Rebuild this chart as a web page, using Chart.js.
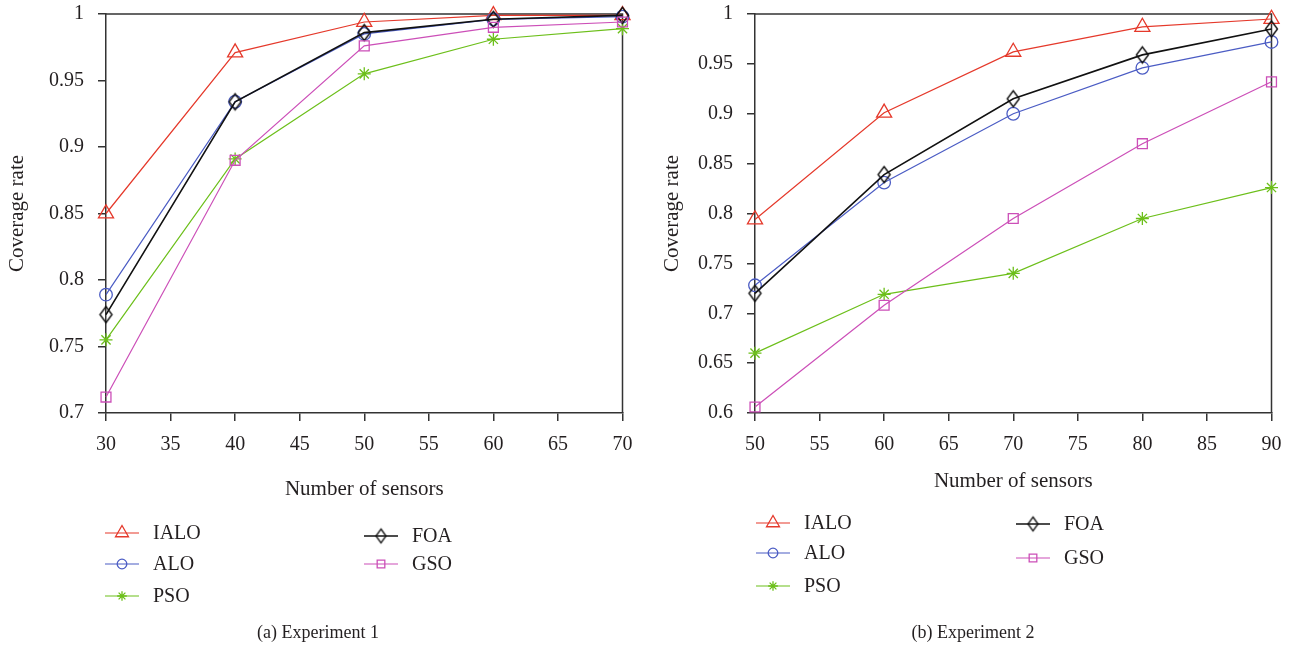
<!DOCTYPE html>
<html lang="en">
<head>
<meta charset="UTF-8">
<title>Coverage rate vs number of sensors</title>
<style>
  html, body { margin: 0; padding: 0; background: #fff; }
  body { width: 1293px; height: 646px; position: relative; overflow: hidden; }
  .panel { position: absolute; top: 0; height: 646px; }
  #panelA { left: 0; width: 646px; }
  #panelB { left: 646px; width: 647px; }
</style>
</head>
<body>
<div class="panel" id="panelA"><canvas id="chartA" width="646" height="646"></canvas></div>
<div class="panel" id="panelB"><canvas id="chartB" width="647" height="646"></canvas></div>
<script src="https://cdn.jsdelivr.net/npm/chart.js@4.4.0/dist/chart.umd.min.js"></script>
<script>
// ---- data ----
const seriesNames = ['IALO', 'ALO', 'PSO', 'FOA', 'GSO'];

// (a) Experiment 1
const sensorsA = [30, 40, 50, 60, 70];
const ialoA = [0.850, 0.971, 0.994, 0.999, 0.999];
const aloA  = [0.789, 0.934, 0.985, 0.996, 0.998];
const psoA  = [0.755, 0.891, 0.955, 0.981, 0.989];
const foaA  = [0.774, 0.934, 0.986, 0.996, 0.999];
const gsoA  = [0.712, 0.890, 0.976, 0.990, 0.994];

// (b) Experiment 2
const sensorsB = [50, 60, 70, 80, 90];
const ialoB = [0.794, 0.901, 0.962, 0.987, 0.995];
const aloB  = [0.728, 0.831, 0.900, 0.946, 0.972];
const psoB  = [0.660, 0.719, 0.740, 0.795, 0.826];
const foaB  = [0.720, 0.839, 0.915, 0.959, 0.985];
const gsoB  = [0.606, 0.708, 0.795, 0.870, 0.932];

// ---- styling ----
const FONT = '"Liberation Serif", "DejaVu Serif", serif';
const INK = '#231f20';
const AXIS = '#333333';
const colors = ['#e5392b', '#4b5cc4', '#6cbf1a', '#111111', '#cc4fb8'];
const lineWidths = [1.2, 1.2, 1.2, 1.6, 1.2];

// tall diamond marker (built-in rectRot is square)
function makeDiamond(w, h, color, lw) {
  const c = document.createElement('canvas');
  c.width = Math.ceil(w + lw * 2 + 2);
  c.height = Math.ceil(h + lw * 2 + 2);
  const g = c.getContext('2d');
  const cx = c.width / 2, cy = c.height / 2;
  g.strokeStyle = color;
  g.lineWidth = lw;
  g.beginPath();
  g.moveTo(cx, cy - h / 2);
  g.lineTo(cx + w / 2, cy);
  g.lineTo(cx, cy + h / 2);
  g.lineTo(cx - w / 2, cy);
  g.closePath();
  g.stroke();
  return c;
}

const pointStyles = ['triangle', 'circle', 'star', makeDiamond(12, 16, colors[3], 1.4), 'rect'];
const legendStyles = ['triangle', 'circle', 'star', makeDiamond(10, 14, colors[3], 1.3), 'rect'];
const pointRadii = [8.7, 6.3, 6.5, 8, 7];
const legendRadii = [7.5, 4.8, 4.8, 7, 5.4];

function buildDatasets(sensors, seriesValues) {
  return seriesValues.map((vals, i) => ({
    label: seriesNames[i],
    data: sensors.map((s, k) => ({ x: s, y: vals[k] })),
    borderColor: colors[i],
    backgroundColor: 'rgba(0,0,0,0)',
    borderWidth: lineWidths[i],
    pointStyle: pointStyles[i],
    pointRadius: pointRadii[i],
    pointBorderWidth: 1.3,
    pointBorderColor: colors[i],
    pointBackgroundColor: 'rgba(0,0,0,0)',
    tension: 0,
    clip: false,
    order: seriesValues.length - i
  }));
}

function decor(cfg) {
  return {
    id: 'decor',
    beforeDatasetsDraw(chart) {
      const ctx = chart.ctx, a = chart.chartArea;
      ctx.save();
      ctx.strokeStyle = AXIS;
      ctx.lineWidth = 1.5;
      ctx.beginPath();
      ctx.moveTo(a.left, a.top);
      ctx.lineTo(a.right, a.top);
      ctx.lineTo(a.right, a.bottom);
      ctx.stroke();
      ctx.restore();
    },
    afterDraw(chart) {
      const ctx = chart.ctx, a = chart.chartArea;
      ctx.save();
      ctx.fillStyle = INK;
      ctx.font = '21px ' + FONT;
      ctx.textBaseline = 'middle';

      // y title
      ctx.save();
      ctx.translate(cfg.yTitleX, (a.top + a.bottom) / 2);
      ctx.rotate(-Math.PI / 2);
      ctx.textAlign = 'center';
      ctx.fillText('Coverage rate', 0, 0);
      ctx.restore();

      // x title
      ctx.textAlign = 'center';
      ctx.fillText('Number of sensors', (a.left + a.right) / 2, cfg.xTitleY);

      // caption
      ctx.font = '18px ' + FONT;
      ctx.fillText(cfg.caption, cfg.captionX, 633);

      // legend
      ctx.font = '20px ' + FONT;
      ctx.textAlign = 'left';
      chart.data.datasets.forEach((ds, i) => {
        const slot = cfg.legend[i];
        ctx.strokeStyle = ds.borderColor;
        ctx.lineWidth = ds.borderWidth;
        ctx.beginPath();
        ctx.moveTo(slot.x, slot.y);
        ctx.lineTo(slot.x + 34, slot.y);
        ctx.stroke();
        ctx.fillStyle = 'rgba(0,0,0,0)';
        ctx.lineWidth = 1.3;
        Chart.helpers.drawPoint(ctx, {
          pointStyle: legendStyles[i], radius: legendRadii[i], rotation: 0, borderWidth: 1.3
        }, slot.x + 17, slot.y);
        ctx.fillStyle = INK;
        ctx.fillText(ds.label, slot.x + 48, slot.y + 1);
      });
      ctx.restore();
    }
  };
}

function makeChart(id, sensors, seriesValues, yMin, cfg) {
  const fmt = v => String(+v.toFixed(2));
  return new Chart(document.getElementById(id), {
    type: 'line',
    data: { datasets: buildDatasets(sensors, seriesValues) },
    options: {
      responsive: false,
      animation: false,
      events: [],
      layout: { padding: { top: 14, right: cfg.rightPad, bottom: 0, left: 0 } },
      plugins: { legend: { display: false }, tooltip: { enabled: false } },
      scales: {
        x: {
          type: 'linear',
          min: sensors[0],
          max: sensors[sensors.length - 1],
          offset: false,
          afterFit: s => { s.height = 646 - 413; s.paddingLeft = 0; s.paddingRight = 0; },
          border: { display: true, color: AXIS, width: 1.5 },
          grid: { display: true, drawOnChartArea: false, drawTicks: true, tickLength: 8, color: AXIS, lineWidth: 1.5 },
          ticks: { stepSize: 5, autoSkip: false, maxRotation: 0, padding: 12, color: INK, font: { family: FONT, size: 20 } }
        },
        y: {
          min: yMin,
          max: 1,
          afterFit: s => { s.width = cfg.yAxisWidth; s.paddingTop = 0; s.paddingBottom = 0; },
          border: { display: true, color: AXIS, width: 1.5 },
          grid: { display: true, drawOnChartArea: false, drawTicks: true, tickLength: 8, color: AXIS, lineWidth: 1.5 },
          ticks: { stepSize: 0.05, padding: 14, color: INK, font: { family: FONT, size: 20 }, callback: fmt }
        }
      }
    },
    plugins: [decor(cfg)]
  });
}

makeChart('chartA', sensorsA, [ialoA, aloA, psoA, foaA, gsoA], 0.7, {
  yAxisWidth: 106, rightPad: 23.5, yTitleX: 17, xTitleY: 489,
  caption: '(a) Experiment 1', captionX: 318,
  legend: [
    { x: 105, y: 533 }, { x: 105, y: 564 }, { x: 105, y: 596 },
    { x: 364, y: 536 }, { x: 364, y: 564 }
  ]
});

makeChart('chartB', sensorsB, [ialoB, aloB, psoB, foaB, gsoB], 0.6, {
  yAxisWidth: 109, rightPad: 21.5, yTitleX: 26, xTitleY: 481,
  caption: '(b) Experiment 2', captionX: 327,
  legend: [
    { x: 110, y: 523 }, { x: 110, y: 553 }, { x: 110, y: 586 },
    { x: 370, y: 524 }, { x: 370, y: 558 }
  ]
});
</script>
</body>
</html>
